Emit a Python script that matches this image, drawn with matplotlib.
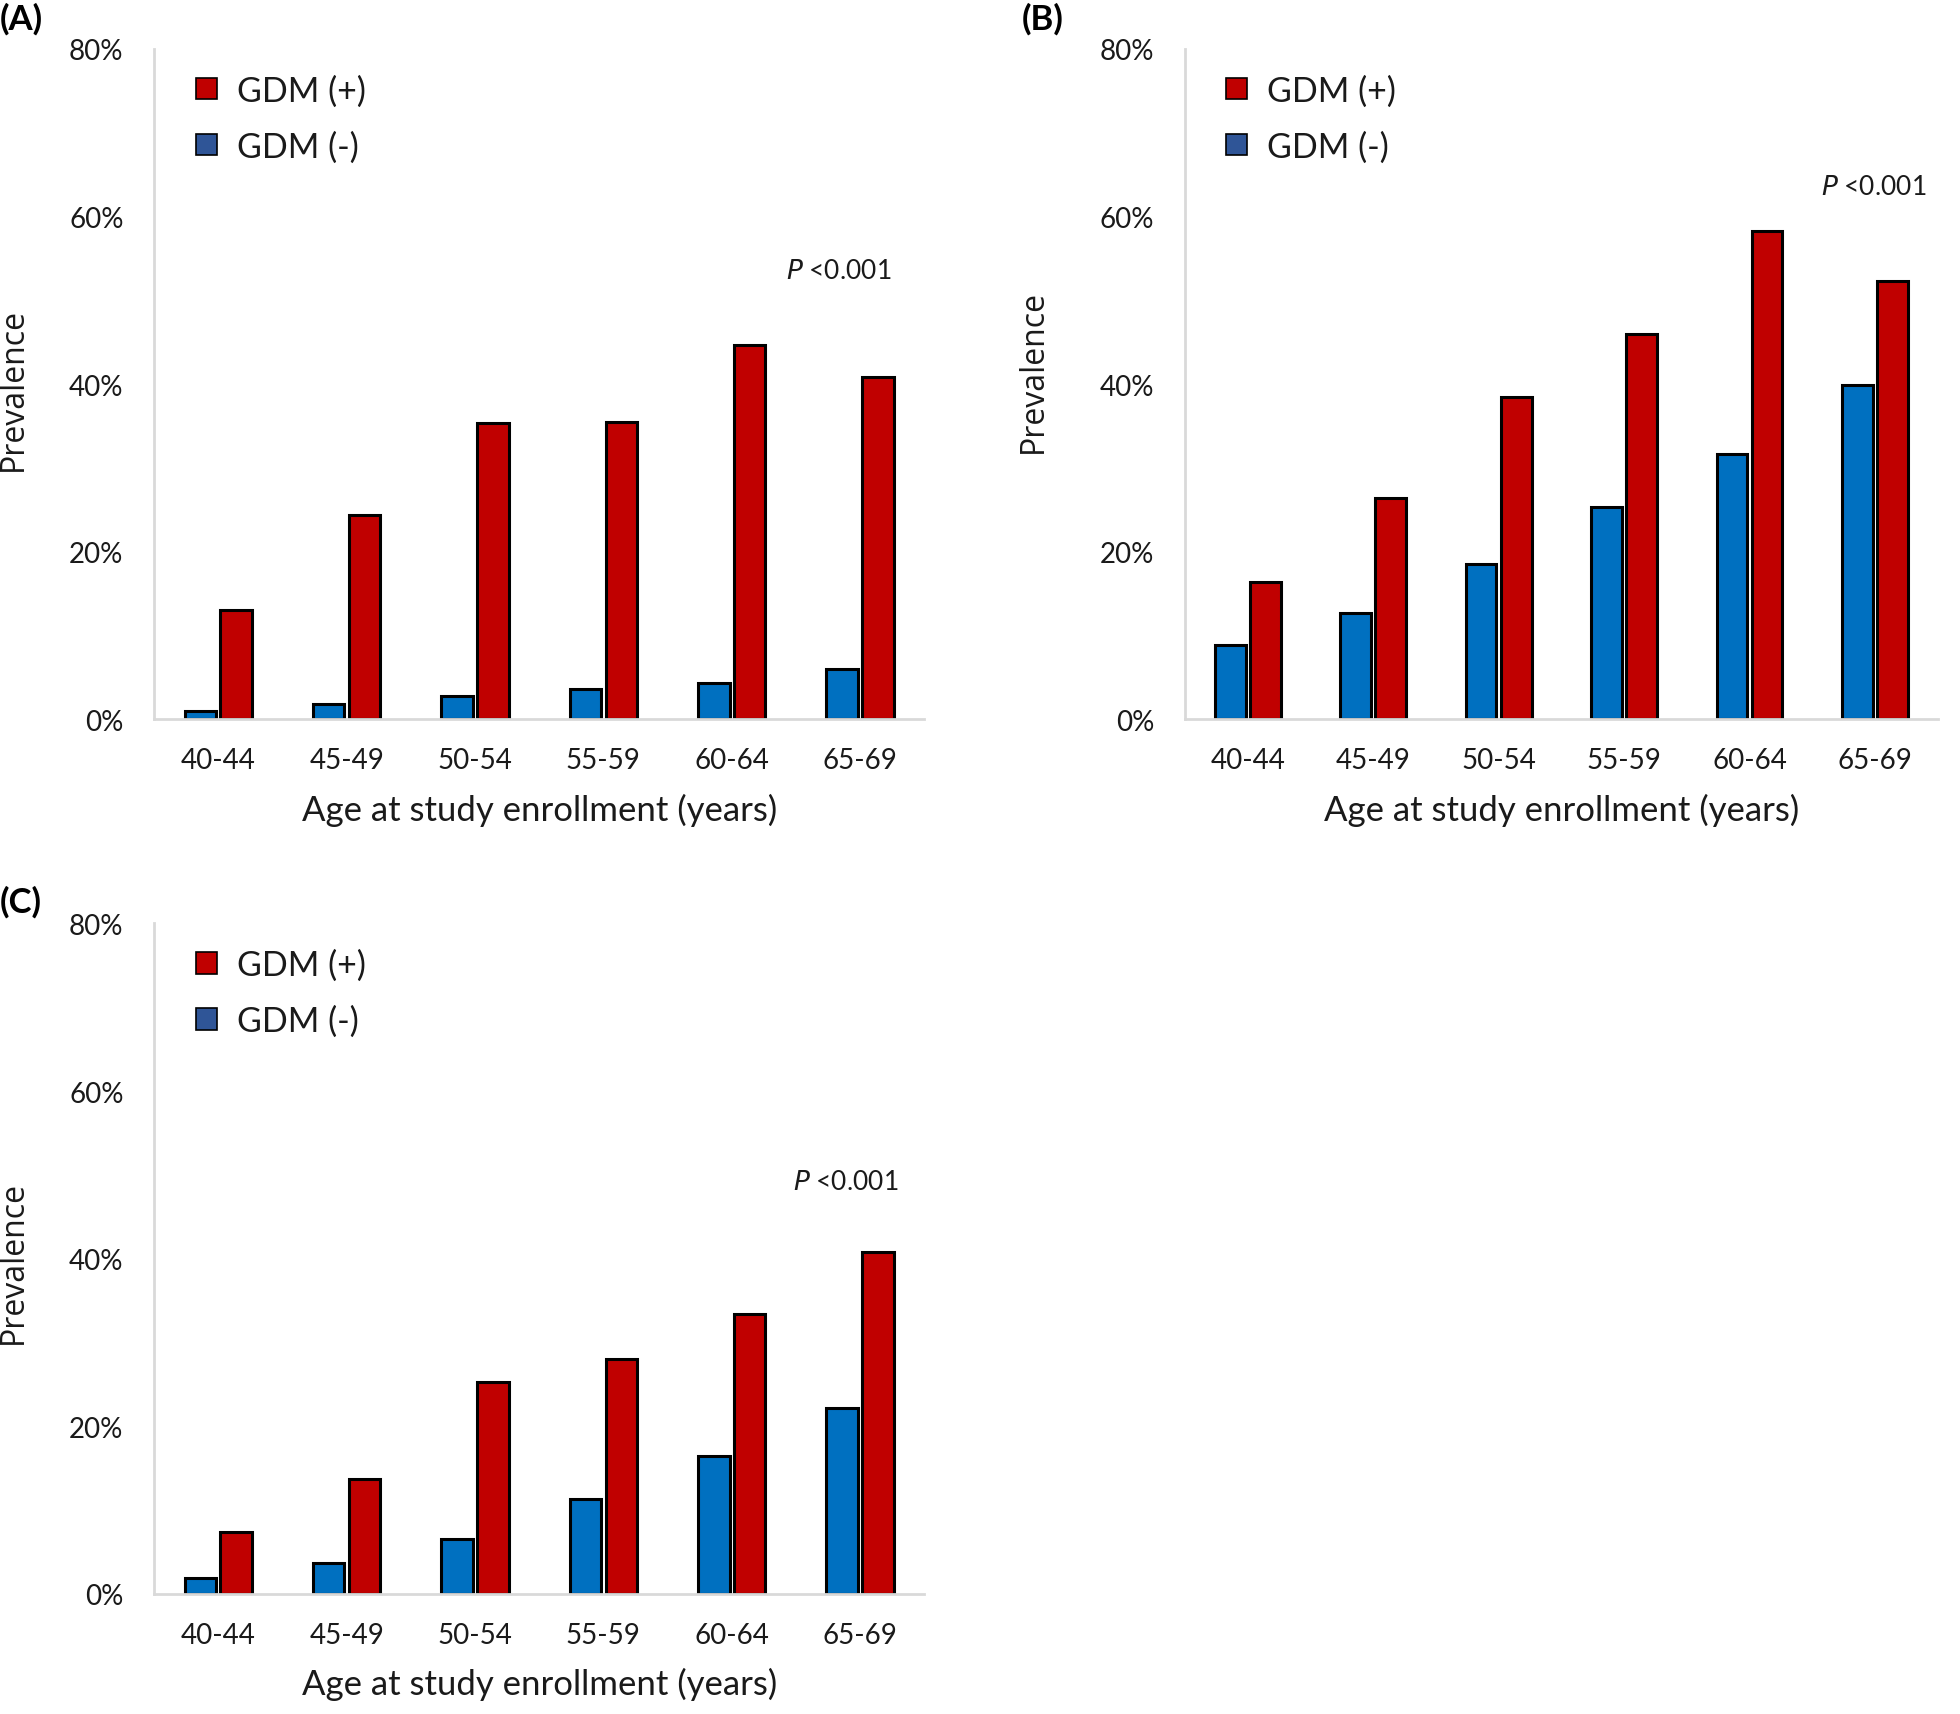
import numpy as np
import matplotlib
matplotlib.use('Agg')
import matplotlib.pyplot as plt
from matplotlib.patches import Patch

plt.rcParams['font.family'] = ['Lato', 'DejaVu Sans']

# 年龄分组
ages = ['40-44', '45-49', '50-54', '55-59', '60-64', '65-69']
yticks = [0, 20, 40, 60, 80]
ytick_labels = ['0%', '20%', '40%', '60%', '80%']

# 各面板患病率(%)
a_neg = [1.0, 1.8, 2.8, 3.6, 4.3, 6.0]
a_pos = [13.0, 24.4, 35.3, 35.5, 44.7, 40.8]
b_neg = [8.9, 12.7, 18.5, 25.3, 31.7, 39.9]
b_pos = [16.4, 26.4, 38.4, 46.0, 58.3, 52.3]
c_neg = [1.9, 3.7, 6.6, 11.3, 16.4, 22.2]
c_pos = [7.4, 13.7, 25.3, 28.0, 33.4, 40.8]

RED = '#C00000'
BLUE = '#0070C0'
BLUE_LEG = '#2F5597'
GRID = '#D9D9D9'
TXT = '#1a1a1a'


def draw_panel(fig, rect, neg, pos, tag, p_xy, tag_xy, ylab_xy):
    ax = fig.add_axes(rect)
    x = np.arange(len(ages))
    w = 0.245
    ax.bar(x - 0.14, neg, w, color=BLUE, edgecolor='black', linewidth=2.2, zorder=2)
    ax.bar(x + 0.14, pos, w, color=RED, edgecolor='black', linewidth=2.2, zorder=2)
    ax.set_xlim(-0.5, len(ages) - 0.5)
    ax.set_ylim(0, 80)
    ax.set_xticks(x)
    ax.set_xticklabels(ages, fontsize=20, color=TXT)
    ax.set_yticks(yticks)
    ax.set_yticklabels(ytick_labels, fontsize=20, color=TXT)
    ax.tick_params(axis='both', length=0)
    ax.tick_params(axis='y', pad=22)
    ax.tick_params(axis='x', pad=20)
    for s in ['top', 'right']:
        ax.spines[s].set_visible(False)
    for s in ['left', 'bottom']:
        ax.spines[s].set_color(GRID)
        ax.spines[s].set_linewidth(2)
        ax.spines[s].set_zorder(3)
    ax.set_xlabel('Age at study enrollment (years)', fontsize=25, color=TXT, labelpad=14)
    ax.set_ylabel('Prevalence', fontsize=23, color=TXT,
                  family=['Open Sans', 'DejaVu Sans'])
    ax.yaxis.set_label_coords(ylab_xy[0], ylab_xy[1])
    handles = [Patch(facecolor=RED, edgecolor='black', linewidth=1.2, label='GDM (+)'),
               Patch(facecolor=BLUE_LEG, edgecolor='black', linewidth=1.2, label='GDM (-)')]
    ax.legend(handles=handles, loc='upper left', bbox_to_anchor=(0.055, 0.962),
              frameon=False, fontsize=24.5, handlelength=0.6, handleheight=0.6,
              handletextpad=0.6, labelspacing=0.7, borderpad=0, borderaxespad=0,
              labelcolor=TXT)
    ax.text(p_xy[0], p_xy[1], r'$\it{P}$ <0.001', fontsize=19, ha='center', va='center',
            color=TXT)
    fig.text(tag_xy[0], tag_xy[1], tag, fontsize=25, fontweight='bold', ha='left',
             va='center', color='black')
    return ax


fig = plt.figure(figsize=(19.6, 17.15), dpi=100)

draw_panel(fig, [0.0786, 0.580, 0.393, 0.391], a_neg, a_pos, '(A)', (4.83, 53.5),
           (0.0, 0.989), (-0.161, 0.493))
draw_panel(fig, [0.6046, 0.580, 0.384, 0.391], b_neg, b_pos, '(B)', (4.99, 63.6),
           (0.5215, 0.989), (-0.18, 0.52))
draw_panel(fig, [0.0786, 0.070, 0.393, 0.391], c_neg, c_pos, '(C)', (4.89, 49.2),
           (0.0, 0.474), (-0.161, 0.496))

fig.savefig('out.png', dpi=100, facecolor='white')
